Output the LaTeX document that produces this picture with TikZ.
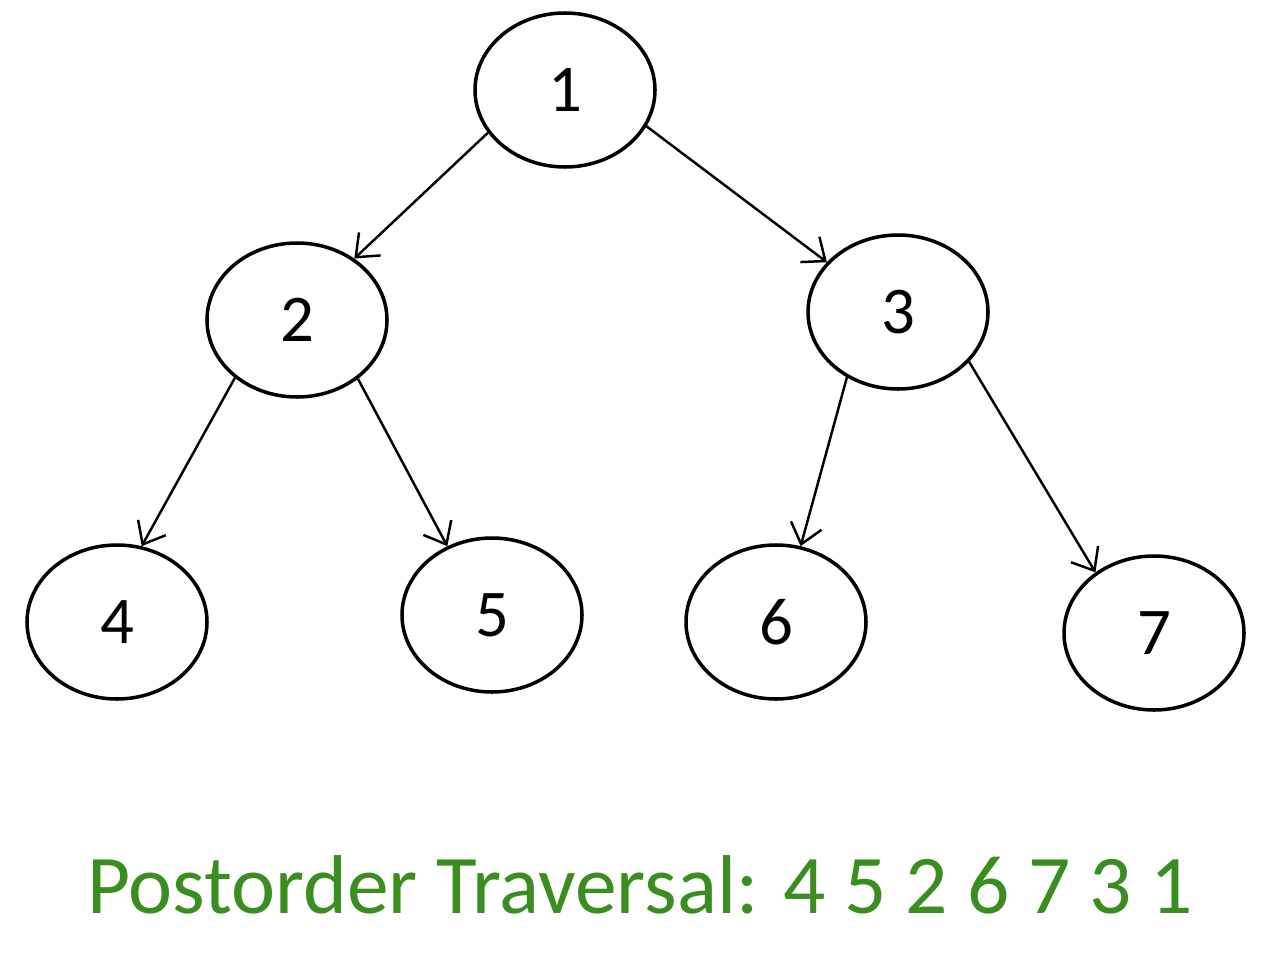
\documentclass[tikz,border=0pt]{standalone}
\usepackage{fontspec}
\setmainfont{Carlito}
\usepackage{tikz}
\usetikzlibrary{shapes.geometric, arrows.meta, positioning}
\definecolor{travgreen}{RGB}{58,142,32}
\tikzstyle{vertex} = [ellipse, draw=black, line width=2pt, minimum width=3.6cm, minimum height=3.08cm, inner sep=0pt, font=\fontsize{38}{40}\selectfont]
\tikzstyle{arrow} = [line width=1.4pt, -{Straight Barb[length=11pt, width=18pt, line width=1.4pt]}]

\begin{document}
\begin{tikzpicture}
            \useasboundingbox (0,0) rectangle (25.4,-19.08);
            \node[vertex] (n1) at (11.3,-1.8) {1};
            \node[vertex] (n2) at (5.94,-6.4) {2};
            \node[vertex] (n3) at (17.96,-6.24) {3};
            \node[vertex] (n4) at (2.34,-12.44) {4};
            \node[vertex] (n5) at (9.84,-12.3) {5};
            \node[vertex] (n6) at (15.52,-12.44) {6};
            \node[vertex] (n7) at (23.08,-12.66) {7};
            \draw[arrow] (n1.209) -- (n2.47);
            \draw[arrow] (n1.336) -- (n3.145);
            \draw[arrow] (n2.223) -- (n4.72);
            \draw[arrow] (n2.316) -- (n5.123);
            \draw[arrow] (n3.232) -- (n6.72);
            \draw[arrow] (n3.325) -- (n7.134);
            \node[anchor=base, text=travgreen, font=\fontsize{47.5}{50}\selectfont] (trav) at (12.8,-18.26) {Postorder Traversal: 4 5 2 6 7 3 1};
        \end{tikzpicture}
\end{document}
